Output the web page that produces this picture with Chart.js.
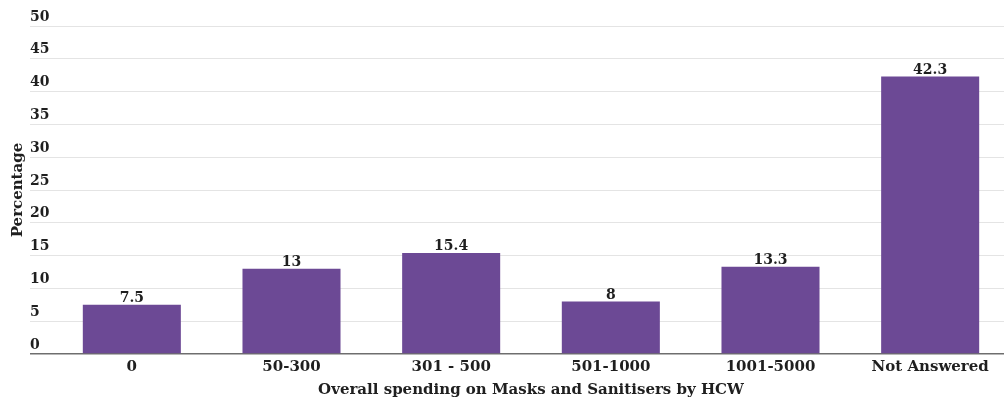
<!DOCTYPE html>
<html>
<head>
<meta charset="utf-8">
<script src="https://cdn.jsdelivr.net/npm/chart.js@4/dist/chart.umd.min.js"></script>
<style>
  html, body { margin: 0; padding: 0; background: #ffffff; overflow: hidden; }
  #wrap { width: 1012px; height: 399px; }
</style>
</head>
<body>
<div id="wrap"><canvas id="c" width="1012" height="399"></canvas></div>
<script>
const categories = ['0', '50-300', '301 - 500', '501-1000', '1001-5000', 'Not Answered'];
const percentages = [7.5, 13, 15.4, 8, 13.3, 42.3];
const yTicks = [0, 5, 10, 15, 20, 25, 30, 35, 40, 45, 50];

const FONT = '"DejaVu Serif", "Liberation Serif", serif';
const INK = '#1f1f1f';

// Value labels above each bar
const barValueLabels = {
  id: 'barValueLabels',
  afterDatasetsDraw(chart) {
    const { ctx } = chart;
    const meta = chart.getDatasetMeta(0);
    ctx.save();
    ctx.font = 'bold 14px ' + FONT;
    ctx.fillStyle = INK;
    ctx.textAlign = 'center';
    ctx.textBaseline = 'alphabetic';
    meta.data.forEach((bar, i) => {
      ctx.fillText(String(percentages[i]), bar.x, bar.y - 3);
    });
    ctx.restore();
  }
};

new Chart(document.getElementById('c'), {
  type: 'bar',
  data: {
    labels: categories,
    datasets: [{
      data: percentages,
      backgroundColor: '#6c4995',
      borderWidth: 0,
      categoryPercentage: 1,
      barPercentage: 0.614
    }]
  },
  options: {
    responsive: false,
    animation: false,
    layout: { padding: { top: 26, right: 2, left: 0, bottom: 0 } },
    plugins: { legend: { display: false }, tooltip: { enabled: false } },
    scales: {
      x: {
        grid: { display: false, drawTicks: false },
        border: { display: false },
        ticks: {
          color: INK,
          font: { family: FONT, weight: 'bold', size: 15 },
          padding: 4,
          maxRotation: 0,
          autoSkip: false
        },
        title: {
          display: true,
          text: 'Overall spending on Masks and Sanitisers by HCW',
          color: INK,
          font: { family: FONT, weight: 'bold', size: 15, lineHeight: 1 },
          padding: { top: 0, bottom: 1.5 }
        },
        afterFit(scale) { scale.height = 45; }
      },
      y: {
        min: 0,
        max: 50,
        afterBuildTicks(scale) { scale.ticks = yTicks.map(v => ({ value: v })); },
        grid: {
          drawTicks: true,
          tickLength: 22,
          color: ctx => (ctx.tick && ctx.tick.value === 0 ? '#6e6e6e' : '#e4e4e4'),
          lineWidth: ctx => (ctx.tick && ctx.tick.value === 0 ? 1.5 : 1)
        },
        border: { display: false },
        ticks: {
          mirror: true,
          crossAlign: 'near',
          padding: -22,
          labelOffset: -9,
          color: INK,
          font: { family: FONT, weight: 'bold', size: 14 }
        },
        title: {
          display: true,
          text: 'Percentage',
          color: INK,
          font: { family: FONT, weight: 'bold', size: 15, lineHeight: 1.2 },
          padding: { top: 9, bottom: 0 }
        },
        afterFit(scale) { scale.width = 52; }
      }
    }
  },
  plugins: [barValueLabels]
});
</script>
</body>
</html>
